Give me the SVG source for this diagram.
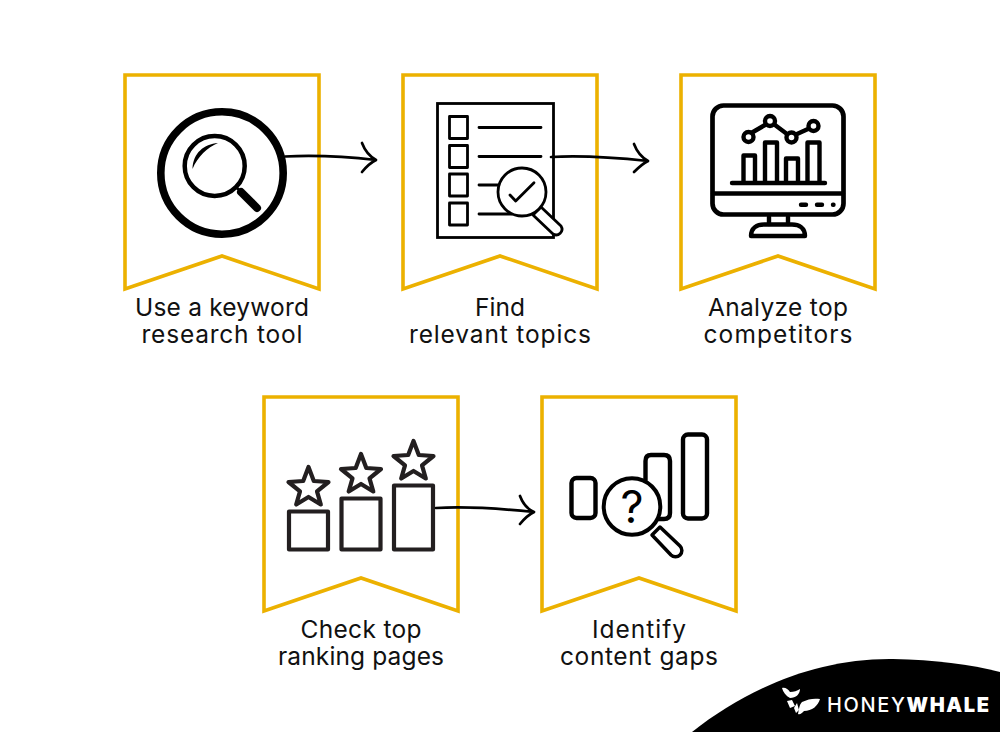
<svg xmlns="http://www.w3.org/2000/svg" width="1000" height="732" viewBox="0 0 1000 732">
<style>
.banner{fill:none;stroke:#ecb100;stroke-width:3.6}
.lbl{font-family:"Inter","Liberation Sans",sans-serif;font-size:24.5px;fill:#111;text-anchor:middle}
.ln{fill:none;stroke:#000;stroke-linecap:round;stroke-linejoin:round}
.arrow{fill:none;stroke:#000;stroke-width:2.7;stroke-linecap:round;stroke-linejoin:round}
.gray{fill:none;stroke:#231f20;stroke-width:4.2;stroke-linejoin:round}
.k{fill:none;stroke:#000;stroke-width:4.4;stroke-linecap:round;stroke-linejoin:round}
</style>
<rect width="1000" height="732" fill="#fff"/>
<g id="node-keyword">
<path class="banner" d="M125 75H319V289L222 256L125 289Z"/>
<circle cx="222" cy="173" r="61.2" fill="none" stroke="#000" stroke-width="7.6"/>
<circle cx="214.700" cy="166" r="30" fill="none" stroke="#000" stroke-width="4.500"/>
<path d="M192.500 169C193 153 204 144 218 143C207 148 198 156 192.500 169Z" fill="#000"/>
<path class="ln" stroke-width="2.500" d="M236 187L241 192"/>
<path class="ln" stroke-width="8" d="M241 192L257 208"/>
<text class="lbl" x="222" y="316" textLength="174">Use a keyword</text>
<text class="lbl" x="222" y="343" textLength="161">research tool</text>
</g>
<g id="node-topics">
<path class="banner" d="M403 75H597V289L500 256L403 289Z"/>
<rect x="437.500" y="103.500" width="116" height="134" fill="none" stroke="#000" stroke-width="2.800"/>
<g fill="none" stroke="#000" stroke-width="2.800" stroke-linejoin="round">
<rect x="449.500" y="116.500" width="18" height="22"/>
<rect x="449.500" y="145.500" width="18" height="22"/>
<rect x="449.500" y="174" width="18" height="22"/>
<rect x="449.500" y="203" width="18" height="22"/>
</g>
<path class="ln" stroke-width="2.800" d="M479 127.500H541M479 156.500H541M479 185H498M479 214H512"/>
<path d="M541 207L561 226A5.800 5.800 0 0 1 553 234L533 215Z" fill="#fff" stroke="#000" stroke-width="2.800" stroke-linejoin="round"/>
<circle cx="522" cy="192" r="24" fill="#fff" stroke="#000" stroke-width="2.800"/>
<path class="ln" stroke-width="2.800" d="M510 195L515.700 201L534 182.700"/>
<text class="lbl" x="500" y="316" textLength="50">Find</text>
<text class="lbl" x="500" y="343" textLength="182">relevant topics</text>
</g>
<g id="node-competitors">
<path class="banner" d="M681 75H875V289L778 256L681 289Z"/>
<rect x="712.500" y="105.500" width="131" height="109" rx="11" fill="none" stroke="#000" stroke-width="4.700"/>
<path class="k" d="M713 193.500H843M732 183H825M743.500 183V155.500H755V183M765 183V142.500H777V183M786 183V158.500H798V183M807.500 183V142.500H819.500V183"/>
<path class="k" d="M753 132L765 125M775 125L787 134M797 134L808 129"/>
<g fill="#fff" stroke="#000" stroke-width="4.400">
<circle cx="748.500" cy="137" r="5"/><circle cx="770" cy="121" r="5"/><circle cx="791.500" cy="137.500" r="5"/><circle cx="813.500" cy="126" r="5"/>
</g>
<path class="k" stroke-width="4.500" d="M801 204.700H806M817 204.700H822M833 204.700H833.500"/>
<path class="k" d="M769 217V224M788 217V224"/>
<path class="k" d="M751 236C751 228 757 224.500 764 224.500H792C799 224.500 805 228 805 236Z"/>
<text class="lbl" x="778" y="316" textLength="140">Analyze top</text>
<text class="lbl" x="778" y="343" textLength="149">competitors</text>
</g>
<g id="node-ranking">
<path class="banner" d="M264 397H458V611L361 578L264 611Z"/>
<rect x="289" y="511.500" width="39" height="38" class="gray"/>
<rect x="341.500" y="498.500" width="39" height="51" class="gray"/>
<rect x="394" y="485.500" width="39" height="64" class="gray"/>
<g class="gray">
<path d="M308.500 467L313.800 481L328.500 482L317 491.300L320.800 504.500L308.500 497L296.200 504.500L300 491.300L288.500 482L303.200 481Z"/>
<path d="M361 454L366.300 468L381 469L369.500 478.300L373.300 491.500L361 484L348.700 491.500L352.500 478.300L341 469L355.700 468Z"/>
<path d="M413.500 441L418.800 455L433.500 456L422 465.300L425.800 478.500L413.500 471L401.200 478.500L405 465.300L393.500 456L408.200 455Z"/>
</g>
<text class="lbl" x="361" y="638" textLength="121">Check top</text>
<text class="lbl" x="361" y="665" textLength="166">ranking pages</text>
</g>
<g id="node-gaps">
<path class="banner" d="M542 397H736V611L639 578L542 611Z"/>
<rect x="571.500" y="478" width="24" height="40" rx="5" class="k"/>
<path class="k" d="M645.500 480V461C645.500 457 647.500 455 651 455H664C668 455 670 457 670 461V513C670 517 668 519 664 519H655"/>
<rect x="683" y="434.500" width="24" height="84" rx="5" class="k"/>
<path d="M660 527L680 546A6.300 6.300 0 0 1 671 555L652 535Z" fill="#fff" stroke="#000" stroke-width="3.500" stroke-linejoin="round"/>
<circle cx="632" cy="506.500" r="28.300" fill="#fff" stroke="#000" stroke-width="4"/>
<text x="632" y="523" font-family="Inter,'Liberation Sans',sans-serif" font-size="45" font-weight="400" text-anchor="middle" fill="#000">?</text>
<text class="lbl" x="639" y="638" textLength="94">Identify</text>
<text class="lbl" x="639" y="665" textLength="158">content gaps</text>
</g>
<g id="connectors">
<path class="arrow" d="M285 156.500C315 155 350 157 376 160M362 143C365 151 369 156 376 160C370 163 366 167 362 172"/>
<path class="arrow" d="M551 157C585 155 620 158 648 161M634 144C637 152 641 157 648 161C642 164 638 168 634 172"/>
<path class="arrow" d="M436 508C470 506 505 509 534 512M520 496C523 504 527 509 534 512C528 515 524 519 520 524"/>
</g>
<g id="logo">
<path d="M692 732C745 690 815 658 893 659C935 660 970 664 1000 672V732Z" fill="#000"/>
<g fill="#fff">
<path d="M782 688C785 687 788 689 790 692C794 692 797 691 800 689C800 694 796 698 790 698C786 696 783 692 782 688Z"/>
<path d="M787 701L792 700L795 706L790 708ZM794 708L797 703L799 710L796 713Z"/>
<path d="M798 714C799 710 799 705 802 702C808 699 814 698 820 699C818 706 812 711 804 711C802 713 800 715 798 714Z"/>
</g>
<text x="827" y="712" font-family="Inter,'Liberation Sans',sans-serif" font-size="20" font-weight="500" fill="#fff" textLength="162">HONEY<tspan font-weight="900">WHALE</tspan></text>
</g>
</svg>
